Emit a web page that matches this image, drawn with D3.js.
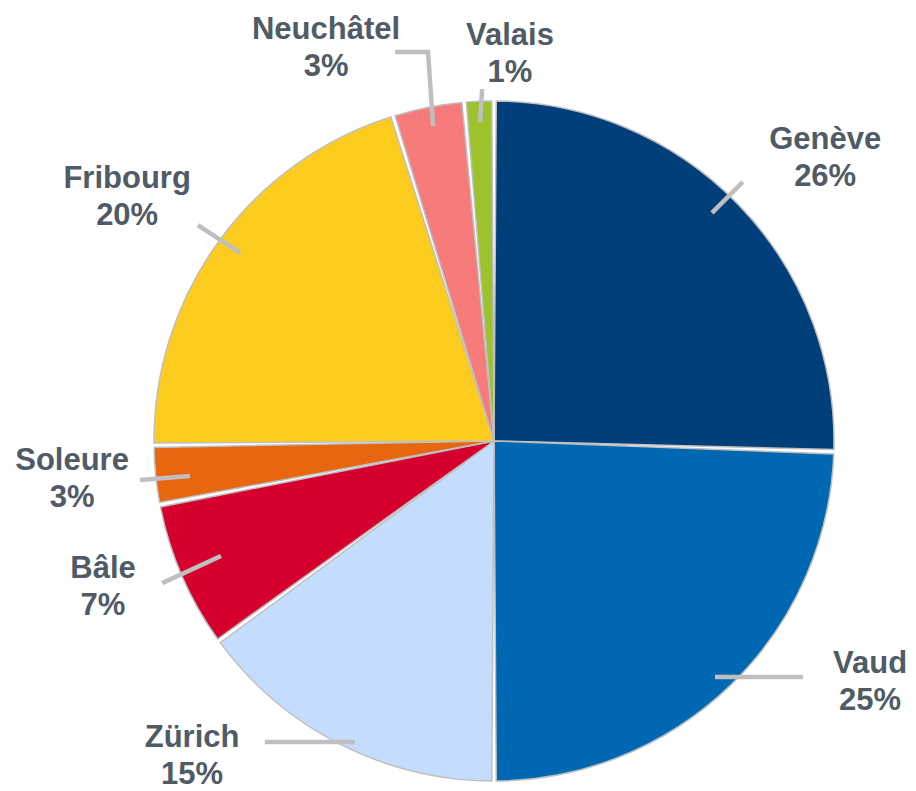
<!DOCTYPE html>
<html>
<head>
<meta charset="utf-8">
<script src="https://cdn.jsdelivr.net/npm/d3@7"></script>
<style>
  body { margin: 0; background: #fff; }
  svg { display: block; }
  .lbl { font-family: "Liberation Sans", Arial, sans-serif; font-weight: bold; font-size: 31px; fill: #505b66; }
</style>
</head>
<body>
<svg id="chart" width="916" height="791"></svg>
<script>
// data
const cantons = ['Genève', 'Vaud', 'Zürich', 'Bâle', 'Soleure', 'Fribourg', 'Neuchâtel', 'Valais'];
const shares = [25.5, 24.5, 15.0, 7.0, 2.8, 20.4, 3.4, 1.4];
const colors = ['#003f7a', '#0068b3', '#c4dcfd', '#d5002e', '#e8660f', '#fdcc1f', '#f77b7b', '#9cc22d'];

// label placement, offsets from the pie centre in units of the radius
const labelPos = [
  [0.974, -0.835], [1.106, 0.706], [-0.888, 0.922], [-1.150, 0.424],
  [-1.241, 0.109], [-1.079, -0.721], [-0.494, -1.159], [0.047, -1.141]
];
const leaders = [
  [[0.641, -0.671], [0.732, -0.762]],
  [[0.650, 0.694], [0.909, 0.694]],
  [[-0.409, 0.885], [-0.674, 0.885]],
  [[-0.803, 0.338], [-0.976, 0.418]],
  [[-0.894, 0.103], [-1.041, 0.115]],
  [[-0.747, -0.553], [-0.871, -0.635]],
  [[-0.179, -0.926], [-0.194, -1.144], [-0.291, -1.144]],
  [[-0.041, -0.938], [-0.035, -1.035]]
];

function draw() {
  const svg = d3.select('#chart'),
        cx = 494, cy = 441, r = 340;

  const data = cantons.map((c, i) => ({ name: c, value: shares[i], color: colors[i] }));

  const pie = d3.pie().value(d => d.value).sort(null);
  const arc = d3.arc().innerRadius(0).outerRadius(r).padAngle(4.5 / r).padRadius(r);

  const g = svg.append('g').attr('transform', `translate(${cx},${cy})`);

  g.selectAll('path.slice')
    .data(pie(data))
    .enter().append('path')
    .attr('class', 'slice')
    .attr('d', arc)
    .attr('fill', d => d.data.color)
    .attr('stroke', '#bfbfbf')
    .attr('stroke-width', 1.5);

  // leader lines
  const line = d3.line().x(p => p[0] * r).y(p => p[1] * r);
  g.selectAll('path.leader')
    .data(leaders)
    .enter().append('path')
    .attr('class', 'leader')
    .attr('d', line)
    .attr('fill', 'none')
    .attr('stroke', '#bfbfbf')
    .attr('stroke-width', 4.5);

  // labels
  const fmt = v => Math.round(v) + '%';
  const t = g.selectAll('text.lbl')
    .data(data)
    .enter().append('text')
    .attr('class', 'lbl')
    .attr('text-anchor', 'middle');

  t.append('tspan')
    .attr('x', (d, i) => labelPos[i][0] * r)
    .attr('y', (d, i) => labelPos[i][1] * r - 18.5)
    .attr('dy', '0.35em')
    .text(d => d.name);

  t.append('tspan')
    .attr('x', (d, i) => labelPos[i][0] * r)
    .attr('y', (d, i) => labelPos[i][1] * r + 18.5)
    .attr('dy', '0.35em')
    .text(d => fmt(d.value));
}

draw();
</script>
</body>
</html>
